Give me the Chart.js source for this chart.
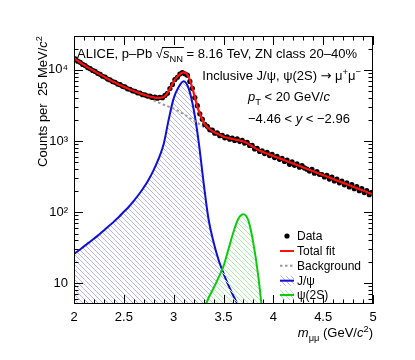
<!DOCTYPE html>
<html>
<head>
<meta charset="utf-8">
<script src="https://cdn.jsdelivr.net/npm/chart.js@4.4.1/dist/chart.umd.min.js"></script>
<style>
  html, body { margin: 0; padding: 0; background: #fff; }
  #wrap { width: 415px; height: 360px; }
</style>
</head>
<body>
<div id="wrap"><canvas id="chart" width="415" height="360"></canvas></div>
<script>
// Dimuon invariant mass, 25 MeV bins
const massBins = [
  2.0125, 2.0375, 2.0625, 2.0875, 2.1125, 2.1375, 2.1625, 2.1875, 2.2125, 2.2375,
  2.2625, 2.2875, 2.3125, 2.3375, 2.3625, 2.3875, 2.4125, 2.4375, 2.4625, 2.4875,
  2.5125, 2.5375, 2.5625, 2.5875, 2.6125, 2.6375, 2.6625, 2.6875, 2.7125, 2.7375,
  2.7625, 2.7875, 2.8125, 2.8375, 2.8625, 2.8875, 2.9125, 2.9375, 2.9625, 2.9875,
  3.0125, 3.0375, 3.0625, 3.0875, 3.1125, 3.1375, 3.1625, 3.1875, 3.2125, 3.2375,
  3.2625, 3.2875, 3.3125, 3.3375, 3.3625, 3.3875, 3.4125, 3.4375, 3.4625, 3.4875,
  3.5125, 3.5375, 3.5625, 3.5875, 3.6125, 3.6375, 3.6625, 3.6875, 3.7125, 3.7375,
  3.7625, 3.7875, 3.8125, 3.8375, 3.8625, 3.8875, 3.9125, 3.9375, 3.9625, 3.9875,
  4.0125, 4.0375, 4.0625, 4.0875, 4.1125, 4.1375, 4.1625, 4.1875, 4.2125, 4.2375,
  4.2625, 4.2875, 4.3125, 4.3375, 4.3625, 4.3875, 4.4125, 4.4375, 4.4625, 4.4875,
  4.5125, 4.5375, 4.5625, 4.5875, 4.6125, 4.6375, 4.6625, 4.6875, 4.7125, 4.7375,
  4.7625, 4.7875, 4.8125, 4.8375, 4.8625, 4.8875, 4.9125, 4.9375, 4.9625, 4.9875
];
const dataCounts = [
  14350, 13280, 12790, 11960, 11520, 10790, 10420, 9830, 9510, 8960,
  8680, 8150, 7920, 7440, 7240, 6850, 6700, 6320, 6210, 5880,
  5760, 5430, 5350, 5080, 5010, 4760, 4720, 4480, 4470, 4290,
  4290, 4110, 4150, 4010, 4120, 4060, 4380, 4700, 5480, 6250,
  7320, 7890, 8740, 9150, 8800, 8430, 6900, 5510, 4080, 3140,
  2410, 2030, 1710, 1610, 1440, 1420, 1290, 1300, 1190, 1200,
  1110, 1140, 1060, 1100, 1020, 1070, 990, 1020, 940, 955,
  865, 870, 775, 790, 715, 730, 665, 690, 625, 650,
  585, 610, 552, 572, 515, 540, 470, 510, 455, 478,
  428, 450, 418, 402, 378, 398, 352, 372, 340, 338,
  312, 330, 292, 310, 274, 292, 258, 274, 242, 258,
  226, 243, 213, 228, 200, 214, 188, 201, 176, 190
];

// Fit components sampled every 50 MeV
const fitMass = [
  2.00, 2.05, 2.10, 2.15, 2.20, 2.25, 2.30, 2.35, 2.40, 2.45,
  2.50, 2.55, 2.60, 2.65, 2.70, 2.75, 2.80, 2.85, 2.90, 2.95,
  3.00, 3.05, 3.10, 3.15, 3.20, 3.25, 3.30, 3.35, 3.40, 3.45,
  3.50, 3.55, 3.60, 3.65, 3.70, 3.75, 3.80, 3.85, 3.90, 3.95,
  4.00, 4.05, 4.10, 4.15, 4.20, 4.25, 4.30, 4.35, 4.40, 4.45,
  4.50, 4.55, 4.60, 4.65, 4.70, 4.75, 4.80, 4.85, 4.90, 4.95, 5.00
];
const totalFit = [
  14620, 13030, 11750, 10590, 9660, 8810, 8040, 7330, 6760, 6260,
  5790, 5390, 5050, 4750, 4490, 4270, 4110, 4040, 4150, 5040,
  6840, 8410, 9230, 7940, 4790, 2690, 1830, 1510, 1350, 1245,
  1150, 1100, 1060, 1030, 984, 912, 820, 748, 695, 655,
  617, 579, 545, 512, 481, 452, 425, 399, 375, 352,
  331, 311, 292, 275, 258, 243, 228, 214, 201, 189, 178
];
const background = [
  14450, 12970, 11700, 10540, 9550, 8710, 7940, 7280, 6680, 6170,
  5690, 5270, 4900, 4570, 4270, 3980, 3720, 3470, 3240, 3040,
  2850, 2630, 2400, 2160, 1950, 1760, 1585, 1445, 1320, 1215,
  1120, 1060, 1000, 944, 891, 836, 785, 736, 692, 653,
  617, 579, 545, 512, 481, 452, 425, 399, 375, 352,
  331, 311, 292, 275, 258, 243, 228, 214, 201, 189, 178
];

const jpsiMass = [
  2.00, 2.05, 2.10, 2.15, 2.20, 2.25, 2.30, 2.35, 2.40, 2.45,
  2.50, 2.55, 2.60, 2.65, 2.70, 2.75, 2.80, 2.85, 2.90, 2.95,
  3.00, 3.05, 3.10, 3.15, 3.20, 3.25, 3.30, 3.35, 3.40, 3.45,
  3.50, 3.55, 3.60, 3.65
];
const jpsiSignal = [
  25.7, 29.1, 33.0, 37.2, 42.3, 48.1, 55.3, 63.6, 73.5, 85.5,
  101, 119, 144, 177, 222, 288, 392, 569, 910, 2000,
  3981, 5750, 6918, 5495, 2818, 1000, 263, 79.4, 38, 21.4,
  13.8, 9.3, 6.6, 4.8
];

const psi2sMass = [3.30, 3.35, 3.40, 3.45, 3.50, 3.55, 3.60, 3.65, 3.70, 3.75, 3.80, 3.85, 3.90];
const psi2sSignal = [4.2, 6.2, 8.5, 12.0, 17.4, 30.2, 52.5, 81.3, 93.3, 75.9, 36.3, 12.3, 2.8];

const xTicks = [2, 2.5, 3, 3.5, 4, 4.5, 5];
const yTicks = [10, 100, 1000, 10000];
const yTickLabels = ['10', '10²', '10³', '10⁴'];

const FONT = '"Liberation Sans", Arial, Helvetica, sans-serif';
const BLUE = '#1010d0';
const GREEN = '#10c810';
const RED = '#ff1010';
const GREY = '#9a9a9a';

function pts(xs, ys) {
  return xs.map((x, i) => ({ x, y: ys[i] }));
}

function hatch(color, size) {
  const c = document.createElement('canvas');
  c.width = size;
  c.height = size;
  const g = c.getContext('2d');
  g.strokeStyle = color;
  g.lineWidth = 1;
  g.beginPath();
  g.moveTo(0, 0); g.lineTo(size, size);
  g.moveTo(-size, 0); g.lineTo(size, 2 * size);
  g.moveTo(0, -size); g.lineTo(2 * size, size);
  g.stroke();
  return g.createPattern(c, 'repeat');
}

/**
 * Draws a line of mixed text. segs items: [text, kind] with kind
 * 'n' normal, 'i' italic, 'sub', 'sup', 'arrow'.
 */
function drawRich(ctx, x, y, segs, size, align) {
  const parts = segs.map(([t, kind]) => {
    const small = kind === 'sub' || kind === 'sup';
    const s = small ? size * 0.72 : size;
    const fam = kind === 'arrow' ? '"DejaVu Sans", sans-serif' : FONT;
    const font = `${kind === 'i' ? 'italic ' : ''}${s}px ${fam}`;
    ctx.font = font;
    const dy = kind === 'sub' ? size * 0.28 : kind === 'sup' ? -size * 0.42 : 0;
    return { t, font, dy, w: ctx.measureText(t).width };
  });
  const total = parts.reduce((a, p) => a + p.w, 0);
  let cx = align === 'right' ? x - total : x;
  const pos = [];
  parts.forEach((p) => {
    ctx.font = p.font;
    ctx.textAlign = 'left';
    ctx.fillText(p.t, cx, y + p.dy);
    pos.push({ x: cx, w: p.w });
    cx += p.w;
  });
  return pos;
}

const rootDecor = {
  id: 'rootDecor',
  afterDraw(chart) {
    const { ctx, chartArea: a, scales: { x, y } } = chart;
    ctx.save();
    ctx.strokeStyle = '#000';
    ctx.fillStyle = '#000';
    ctx.lineWidth = 1;

    // frame
    ctx.strokeRect(a.left + 0.5, a.top + 0.5, a.right - a.left - 1, a.bottom - a.top - 1);

    // x ticks (inside, bottom and top)
    ctx.beginPath();
    for (let v = 2; v <= 5.0001; v += 0.1) {
      const major = Math.abs(v * 2 - Math.round(v * 2)) < 1e-6;
      const len = major ? 9 : 4.5;
      const px = Math.round(x.getPixelForValue(v)) + 0.5;
      ctx.moveTo(px, a.bottom); ctx.lineTo(px, a.bottom - len);
      ctx.moveTo(px, a.top); ctx.lineTo(px, a.top + len);
    }
    // y ticks (inside, left and right)
    for (let d = 1; d <= 10000; d *= 10) {
      for (let m = 1; m <= 9; m++) {
        const v = d * m;
        if (v < y.min || v > y.max) continue;
        const len = m === 1 ? 9 : 4.5;
        const py = Math.round(y.getPixelForValue(v)) + 0.5;
        ctx.moveTo(a.left, py); ctx.lineTo(a.left + len, py);
        ctx.moveTo(a.right, py); ctx.lineTo(a.right - len, py);
      }
    }
    ctx.stroke();

    ctx.textBaseline = 'alphabetic';
    // header texts
    const s13 = 13;
    const p1 = drawRich(ctx, 77, 58, [
      ['ALICE, p–Pb ', 'n'], ['√', 'n'], ['s', 'i'], ['NN', 'sub'],
      [' = 8.16 TeV, ZN class 20–40%', 'n']], s13, 'left');
    // radical overline
    ctx.beginPath();
    ctx.moveTo(p1[1].x + p1[1].w - 1, 47.5);
    ctx.lineTo(p1[3].x + p1[3].w + 1, 47.5);
    ctx.stroke();

    drawRich(ctx, 361, 80, [
      ['Inclusive J/ψ, ψ(2S) ', 'n'], ['→', 'arrow'], [' μ', 'n'], ['+', 'sup'], ['μ', 'n'], ['−', 'sup']], s13, 'right');
    drawRich(ctx, 248, 101, [
      ['p', 'i'], ['T', 'sub'], [' < 20 GeV/', 'n'], ['c', 'i']], s13, 'left');
    drawRich(ctx, 248, 123, [
      ['−4.46 < ', 'n'], ['y', 'i'], [' < −2.96', 'n']], s13, 'left');

    // axis titles
    drawRich(ctx, a.right, 337, [
      ['m', 'i'], ['μμ', 'sub'], [' (GeV/', 'n'], ['c', 'i'], ['2', 'sup'], [')', 'n']], s13, 'right');
    ctx.save();
    ctx.translate(47, a.top);
    ctx.rotate(-Math.PI / 2);
    drawRich(ctx, 0, 0, [
      ['Counts per  25 MeV/', 'n'], ['c', 'i'], ['2', 'sup']], s13, 'right');
    ctx.restore();

    // legend
    const lx0 = 280;
    const lx1 = 294;
    const tx = 297;
    const rows = [236, 251, 265.7, 280.7, 295];
    const labels = ['Data', 'Total fit', 'Background', 'J/ψ', 'ψ(2S)'];
    ctx.font = `12px ${FONT}`;
    ctx.textAlign = 'left';
    labels.forEach((t, i) => ctx.fillText(t, tx, rows[i] + 4.3));

    ctx.beginPath();
    ctx.arc(287, rows[0], 2.6, 0, Math.PI * 2);
    ctx.fill();

    ctx.lineWidth = 2;
    ctx.strokeStyle = RED;
    ctx.beginPath(); ctx.moveTo(lx0, rows[1]); ctx.lineTo(lx1, rows[1]); ctx.stroke();

    ctx.strokeStyle = GREY;
    ctx.setLineDash([2.5, 2.5]);
    ctx.beginPath(); ctx.moveTo(lx0, rows[2]); ctx.lineTo(lx1, rows[2]); ctx.stroke();
    ctx.setLineDash([]);

    [[rows[3], jpsiHatch, BLUE], [rows[4], psiHatch, GREEN]].forEach(([ry, pat, col]) => {
      ctx.fillStyle = pat;
      ctx.fillRect(lx0, ry - 5, lx1 - lx0, 10);
      ctx.strokeStyle = col;
      ctx.beginPath(); ctx.moveTo(lx0, ry); ctx.lineTo(lx1, ry); ctx.stroke();
    });

    ctx.restore();
  },
};

const canvas = document.getElementById('chart');
const jpsiHatch = hatch('#b3b8ec', 5);
const psiHatch = hatch('#b2ebb2', 5);

const chart = new Chart(canvas, {
  type: 'scatter',
  data: {
    datasets: [
      {
        label: 'Total fit',
        data: pts(fitMass, totalFit),
        showLine: true,
        borderColor: RED,
        borderWidth: 2.2,
        pointRadius: 0,
        cubicInterpolationMode: 'monotone',
        fill: false,
      },
      {
        label: 'Data',
        data: pts(massBins, dataCounts),
        showLine: false,
        pointRadius: 2.6,
        pointBackgroundColor: '#000',
        pointBorderWidth: 0,
      },
      {
        label: 'Background',
        data: pts(fitMass, background),
        showLine: true,
        borderColor: GREY,
        borderWidth: 2,
        borderDash: [2.5, 2.5],
        pointRadius: 0,
        cubicInterpolationMode: 'monotone',
        fill: false,
      },
      {
        label: 'ψ(2S)',
        data: pts(psi2sMass, psi2sSignal),
        showLine: true,
        borderColor: GREEN,
        borderWidth: 2,
        pointRadius: 0,
        cubicInterpolationMode: 'monotone',
        backgroundColor: psiHatch,
        fill: 'start',
      },
      {
        label: 'J/ψ',
        data: pts(jpsiMass, jpsiSignal),
        showLine: true,
        borderColor: BLUE,
        borderWidth: 2,
        pointRadius: 0,
        cubicInterpolationMode: 'monotone',
        backgroundColor: jpsiHatch,
        fill: 'start',
      },
    ],
  },
  options: {
    responsive: false,
    animation: false,
    layout: { padding: { top: 36, right: 42, left: 0, bottom: 0 } },
    plugins: {
      legend: { display: false },
      tooltip: { enabled: false },
      title: { display: false },
    },
    scales: {
      x: {
        type: 'linear',
        min: 2,
        max: 5,
        afterBuildTicks: (scale) => { scale.ticks = xTicks.map((v) => ({ value: v })); },
        afterFit: (scale) => { scale.height = 56; },
        ticks: {
          color: '#000',
          font: { family: FONT, size: 13 },
          padding: 6,
          maxRotation: 0,
          callback: (v) => String(v),
        },
        grid: { display: false, drawTicks: false },
        border: { display: false },
      },
      y: {
        type: 'logarithmic',
        min: 5.1,
        max: 30000,
        afterBuildTicks: (scale) => { scale.ticks = yTicks.map((v) => ({ value: v })); },
        afterFit: (scale) => { scale.width = 74; },
        ticks: {
          color: '#000',
          font: { family: FONT, size: 13 },
          padding: 6,
          callback: (v) => yTickLabels[yTicks.indexOf(v)] || '',
        },
        grid: { display: false, drawTicks: false },
        border: { display: false },
      },
    },
  },
  plugins: [rootDecor],
});
</script>
</body>
</html>
